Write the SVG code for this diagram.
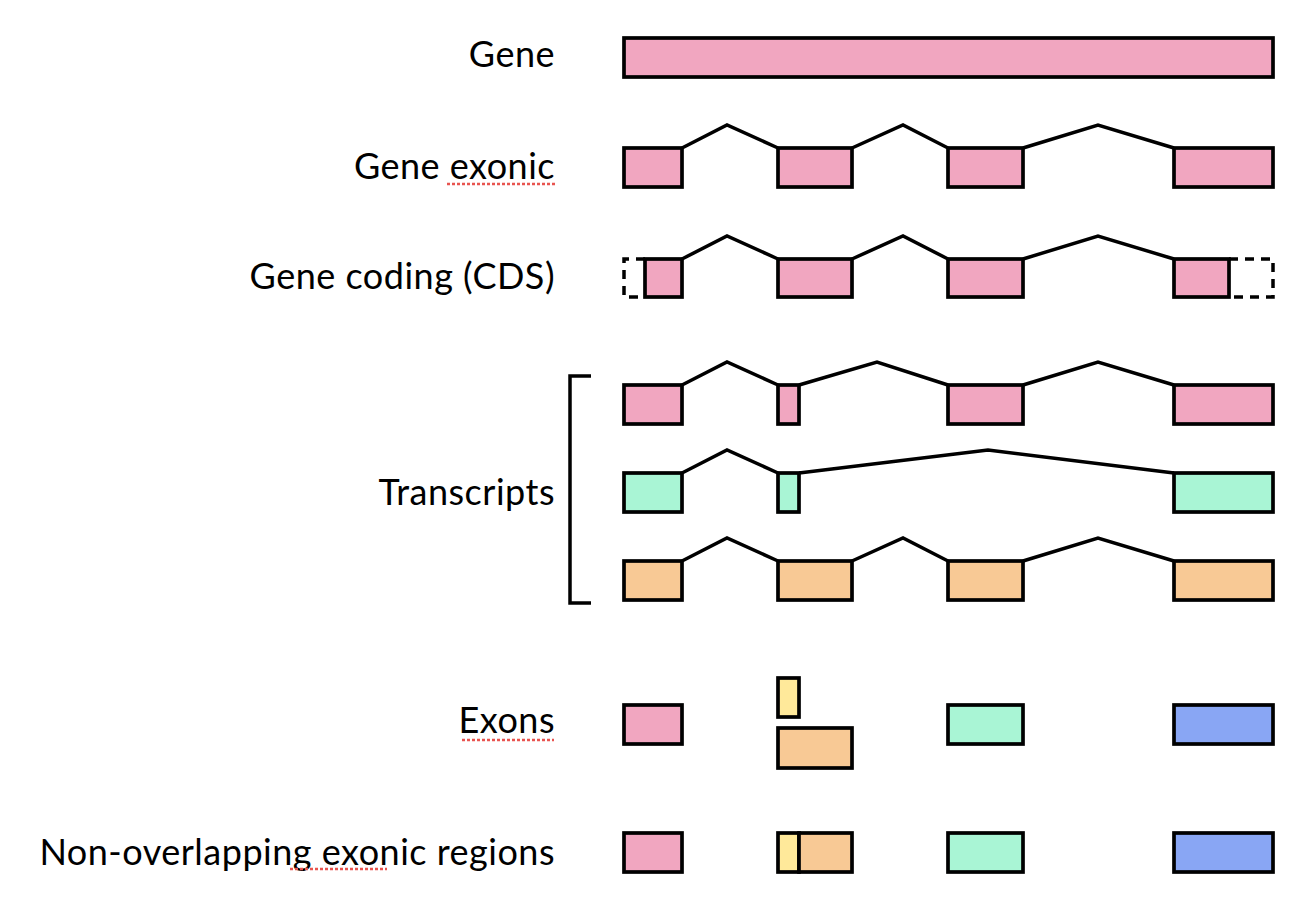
<svg xmlns="http://www.w3.org/2000/svg" width="1309" height="898" viewBox="0 0 1309 898">
<style>
.lbl{font-family:"Gill Sans","Lato","Liberation Sans",sans-serif;font-size:36px;letter-spacing:0.5px;fill:#000;text-anchor:end}
.b{stroke:#000;stroke-width:3.7}
.pk{fill:#F1A6C0}.gr{fill:#A9F5D5}.or{fill:#F8C995}.ye{fill:#FFE99A}.bl{fill:#89A6F4}
.ln{fill:none;stroke:#000;stroke-width:3.5;stroke-linejoin:miter}
.dash{fill:none;stroke:#000;stroke-width:3.5;stroke-dasharray:9 7}
.sp{fill:none;stroke:#E8544F;stroke-width:2.5;stroke-dasharray:3 2}
</style>
<rect width="1309" height="898" fill="#fff"/>
<g id="labels">
<text class="lbl" x="555" y="67">Gene</text>
<text class="lbl" x="555" y="179">Gene exonic</text>
<text class="lbl" x="555" y="289">Gene coding (CDS)</text>
<text class="lbl" x="555" y="505">Transcripts</text>
<text class="lbl" x="555" y="733">Exons</text>
<text class="lbl" x="555" y="865">Non-overlapping exonic regions</text>
<path class="sp" d="M447 184H557"/>
<path class="sp" d="M462 740H554"/>
<path class="sp" d="M290 869H387"/>
</g>
<g id="gene"><rect class="b pk" x="624" y="38" width="649" height="39"/></g>
<g id="gene-exonic">
<rect class="b pk" x="624" y="148" width="58" height="39"/>
<rect class="b pk" x="778" y="148" width="74" height="39"/>
<rect class="b pk" x="948" y="148" width="75" height="39"/>
<rect class="b pk" x="1174" y="148" width="99" height="39"/>
</g>
<g id="gene-coding">
<path class="dash" d="M645 259H624V297H645"/>
<rect class="b pk" x="645" y="259" width="37" height="38"/>
<rect class="b pk" x="778" y="259" width="74" height="38"/>
<rect class="b pk" x="948" y="259" width="75" height="38"/>
<path class="dash" d="M1229 259H1273V297H1229"/>
<rect class="b pk" x="1174" y="259" width="55" height="38"/>
</g>
<g id="transcript-1">
<rect class="b pk" x="624" y="385" width="58" height="39"/>
<rect class="b pk" x="778" y="385" width="21" height="39"/>
<rect class="b pk" x="948" y="385" width="75" height="39"/>
<rect class="b pk" x="1174" y="385" width="99" height="39"/>
</g>
<g id="transcript-2">
<rect class="b gr" x="624" y="473" width="58" height="39"/>
<rect class="b gr" x="778" y="473" width="21" height="39"/>
<rect class="b gr" x="1174" y="473" width="99" height="39"/>
</g>
<g id="transcript-3">
<rect class="b or" x="624" y="561" width="58" height="39"/>
<rect class="b or" x="778" y="561" width="74" height="39"/>
<rect class="b or" x="948" y="561" width="75" height="39"/>
<rect class="b or" x="1174" y="561" width="99" height="39"/>
</g>
<g id="bracket"><path class="ln" d="M591 376H570V603H591"/></g>
<g id="exons">
<rect class="b pk" x="624" y="705" width="58" height="39"/>
<rect class="b ye" x="778" y="678" width="21" height="39"/>
<rect class="b or" x="778" y="728" width="74" height="40"/>
<rect class="b gr" x="948" y="705" width="75" height="39"/>
<rect class="b bl" x="1174" y="705" width="99" height="39"/>
</g>
<g id="non-overlapping">
<rect class="b pk" x="624" y="833" width="58" height="39"/>
<rect class="b ye" x="778" y="833" width="21" height="39"/>
<rect class="b or" x="799" y="833" width="53" height="39"/>
<rect class="b gr" x="948" y="833" width="75" height="39"/>
<rect class="b bl" x="1174" y="833" width="99" height="39"/>
</g>
<g id="connectors">
<path class="ln" d="M682 148L727 125L778 148M852 148L903 125L948 148M1023 148L1098 125L1174 148"/>
<path class="ln" d="M682 259L727 236L778 259M852 259L903 236L948 259M1023 259L1098 236L1174 259"/>
<path class="ln" d="M682 385L727 362L778 385M799 385L877 362L948 385M1023 385L1098 362L1174 385"/>
<path class="ln" d="M682 473L727 450L778 473M799 473L988 450L1174 473"/>
<path class="ln" d="M682 561L727 538L778 561M852 561L903 538L948 561M1023 561L1098 538L1174 561"/>
</g>
</svg>
